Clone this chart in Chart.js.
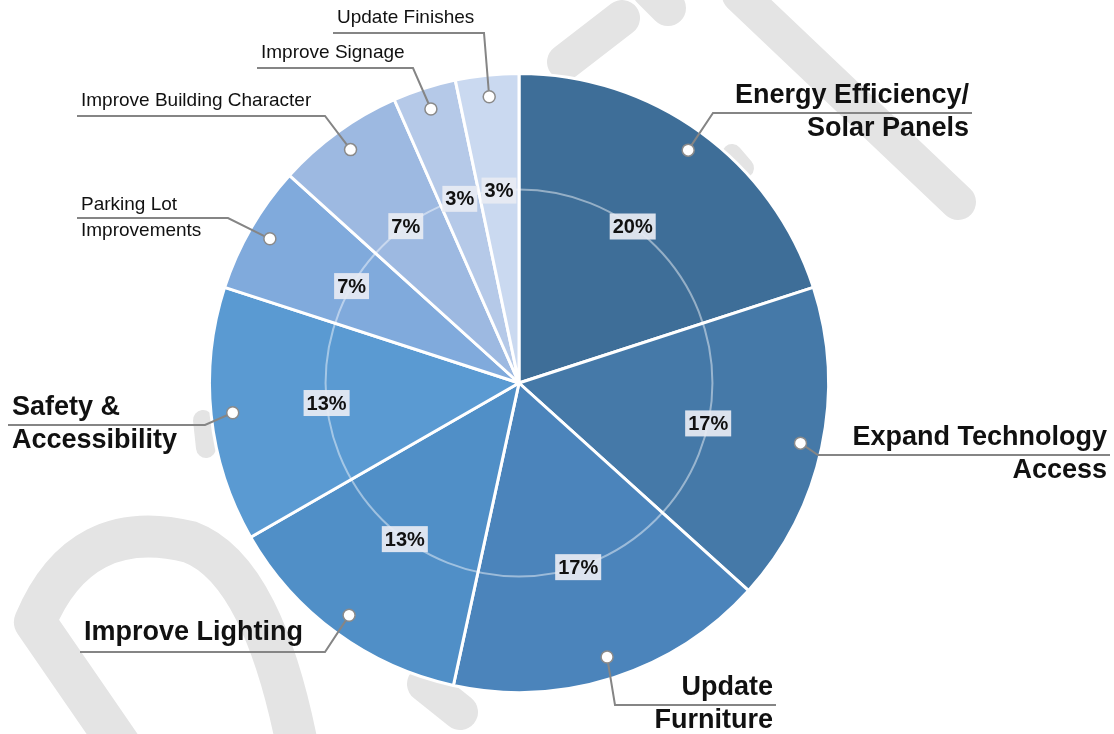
<!DOCTYPE html>
<html>
<head>
<meta charset="utf-8">
<script src="https://cdn.jsdelivr.net/npm/chart.js@4.4.0/dist/chart.umd.min.js"></script>
<style>
    html, body { margin: 0; padding: 0; background: #fff; }
    #wrap { width: 1114px; height: 734px; }
</style>
</head>
<body>
<div id="wrap"><canvas id="graficoPrioridades"></canvas></div>
<script>
// Categories (one entry per slice, split into display lines)
const categories = [
    ['Energy Efficiency/', 'Solar Panels'],
    ['Expand Technology', 'Access'],
    ['Update', 'Furniture'],
    ['Improve Lighting'],
    ['Safety &', 'Accessibility'],
    ['Parking Lot', 'Improvements'],
    ['Improve Building Character'],
    ['Improve Signage'],
    ['Update Finishes']
];
// Share of responses, in percent
const shares = [20, 16.7, 16.7, 13.3, 13.3, 6.7, 6.7, 3.3, 3.3];
const sliceColors = ['#3e6e98', '#4579a8', '#4b84bb', '#508fc7', '#5a9ad2', '#80aadc', '#9db9e1', '#b5c9e8', '#cad9f0'];

// Callout layout: elbow point, far end of the underline, side, big/small text
const callouts = [
    { elbow: [713, 113], end: 972, side: 'right', big: true },
    { elbow: [818, 455], end: 1110, side: 'right', big: true },
    { elbow: [615, 705], end: 776, side: 'right', big: true },
    { elbow: [325, 652], end: 80, side: 'left', big: true },
    { elbow: [205, 425], end: 8, side: 'left', big: true },
    { elbow: [228, 218], end: 77, side: 'left', big: false },
    { elbow: [325, 116], end: 77, side: 'left', big: false },
    { elbow: [413, 68], end: 257, side: 'left', big: false },
    { elbow: [484, 33], end: 333, side: 'left', big: false }
];

// Light grey "DRAFT" watermark strokes behind the pie
const watermark = {
    id: 'watermark',
    beforeDatasetsDraw(chart) {
        const ctx = chart.ctx;
        ctx.save();
        ctx.strokeStyle = '#e4e4e4';
        ctx.lineCap = 'round';
        ctx.lineJoin = 'round';
        ctx.lineWidth = 36;
        const seg = (pts) => {
            ctx.beginPath();
            ctx.moveTo(pts[0], pts[1]);
            for (let i = 2; i < pts.length; i += 2) ctx.lineTo(pts[i], pts[i + 1]);
            ctx.stroke();
        };
        seg([565, 62, 622, 18]);
        seg([650, -10, 668, 8]);
        seg([740, -5, 958, 202]);
        seg([425, 684, 460, 712]);
        ctx.lineWidth = 20;
        seg([732, 154, 744, 168]);
        seg([203, 420, 206, 448]);
        ctx.lineWidth = 42;
        ctx.beginPath();
        ctx.moveTo(130, 760);
        ctx.lineTo(35, 622);
        ctx.quadraticCurveTo(80, 515, 190, 542);
        ctx.quadraticCurveTo(265, 570, 300, 760);
        ctx.stroke();
        ctx.restore();
    }
};

// Inner ring, percent boxes, dots and leader lines
const annotations = {
    id: 'annotations',
    afterDatasetsDraw(chart) {
        const ctx = chart.ctx;
        const arcs = chart.getDatasetMeta(0).data;
        const total = shares.reduce((a, b) => a + b, 0);
        const cx = arcs[0].x, cy = arcs[0].y, R = arcs[0].outerRadius;
        const ringR = R * 0.625;

        ctx.save();
        ctx.beginPath();
        ctx.arc(cx, cy, ringR, 0, Math.PI * 2);
        ctx.strokeStyle = 'rgba(255,255,255,0.45)';
        ctx.lineWidth = 2;
        ctx.stroke();

        arcs.forEach((arc, i) => {
            const mid = (arc.startAngle + arc.endAngle) / 2;
            // percent label
            const px = cx + Math.cos(mid) * ringR;
            const py = cy + Math.sin(mid) * ringR;
            const txt = Math.round(shares[i] / total * 100) + '%';
            ctx.font = 'bold 20px "Liberation Sans", Arial, sans-serif';
            const w = ctx.measureText(txt).width + 6;
            ctx.fillStyle = 'rgba(232,236,243,0.92)';
            ctx.fillRect(px - w / 2, py - 13, w, 26);
            ctx.fillStyle = '#111';
            ctx.textAlign = 'center';
            ctx.textBaseline = 'middle';
            ctx.fillText(txt, px, py + 1);

            // leader line
            const c = callouts[i];
            const dx = cx + Math.cos(mid) * R * 0.93;
            const dy = cy + Math.sin(mid) * R * 0.93;
            ctx.beginPath();
            ctx.moveTo(dx, dy);
            ctx.lineTo(c.elbow[0], c.elbow[1]);
            ctx.lineTo(c.end, c.elbow[1]);
            ctx.strokeStyle = '#858585';
            ctx.lineWidth = 2;
            ctx.stroke();

            ctx.beginPath();
            ctx.arc(dx, dy, 6, 0, Math.PI * 2);
            ctx.fillStyle = '#fff';
            ctx.fill();
            ctx.strokeStyle = '#8a8a8a';
            ctx.lineWidth = 1.5;
            ctx.stroke();

            // category text
            const lines = categories[i];
            const ly = c.elbow[1];
            ctx.fillStyle = '#111';
            ctx.textBaseline = 'middle';
            ctx.font = c.big ? 'bold 27px "Liberation Sans", Arial, sans-serif'
                             : '19px "Liberation Sans", Arial, sans-serif';
            ctx.textAlign = c.side === 'right' ? 'right' : 'left';
            const tx = c.side === 'right' ? c.end - 3 : c.end + 4;
            if (lines.length === 1) {
                ctx.fillText(lines[0], tx, ly - (c.big ? 19 : 15));
            } else if (c.big) {
                ctx.fillText(lines[0], tx, ly - 17);
                ctx.fillText(lines[1], tx, ly + 16);
            } else {
                ctx.fillText(lines[0], tx, ly - 13);
                ctx.fillText(lines[1], tx, ly + 13);
            }
        });
        ctx.restore();
    }
};

const ctxPrioridades = document.getElementById('graficoPrioridades').getContext('2d');
const graficoPrioridades = new Chart(ctxPrioridades, {
    type: 'pie',
    data: {
        labels: categories,
        datasets: [{
            data: shares,
            backgroundColor: sliceColors,
            borderColor: '#fff',
            borderWidth: 3
        }]
    },
    options: {
        responsive: true,
        maintainAspectRatio: false,
        animation: false,
        layout: {
            padding: { top: 72, bottom: 40, left: 208, right: 284 }
        },
        plugins: {
            legend: { display: false },
            tooltip: { enabled: false }
        }
    },
    plugins: [watermark, annotations]
});
</script>
</body>
</html>
